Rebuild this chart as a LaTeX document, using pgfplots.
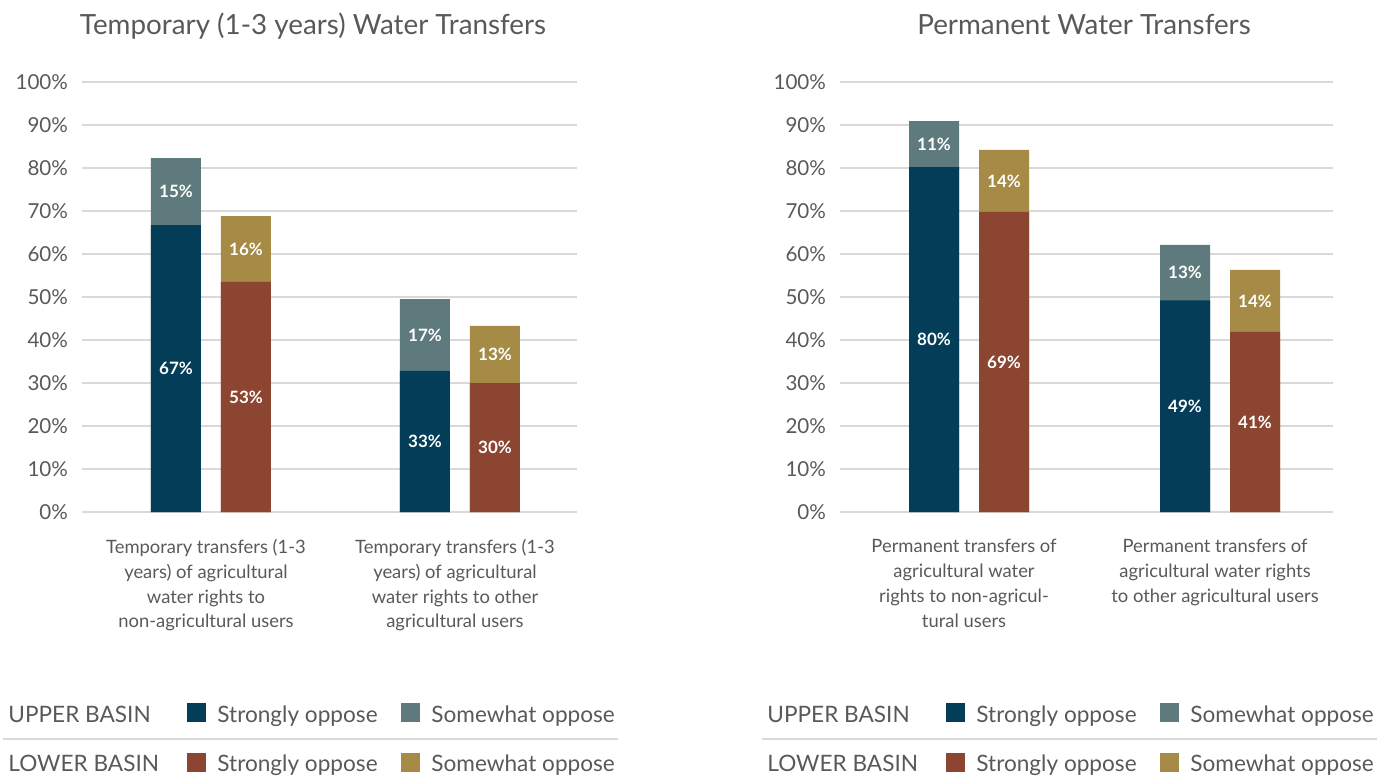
\documentclass[border=0pt]{standalone}
\usepackage{pgfplots}
\usepackage{pgfplotstable}
\pgfplotsset{compat=1.18}
\usepackage{fontspec}
\setmainfont{Lato}
\definecolor{ublue}{RGB}{3,61,88}
\definecolor{uteal}{RGB}{94,122,125}
\definecolor{lbrown}{RGB}{139,69,48}
\definecolor{lgold}{RGB}{166,139,71}
\definecolor{txt}{RGB}{89,89,89}
\definecolor{gridc}{RGB}{217,217,217}

% x: category; us/uw: upper basin strongly/somewhat; ls/lw: lower basin; *l: printed labels
\pgfplotstableread{
x  us   uw   ls   lw   usl uwl lsl lwl
0  66.7 15.6 53.5 15.3 67  15  53  16
1  32.8 16.7 30.0 13.3 33  17  30  13
}\tempdata
\pgfplotstableread{
x  us   uw   ls   lw   usl uwl lsl lwl
0  80.2 10.7 69.8 14.4 80  11  69  14
1  49.2 12.9 41.9 14.4 49  13  41  14
}\permdata

\pgfplotsset{
  panel/.style={
    scale only axis,
    height=215pt,
    ymin=0, ymax=100,
    ytick={0,10,...,100},
    yticklabels={0\%,10\%,20\%,30\%,40\%,50\%,60\%,70\%,80\%,90\%,100\%},
    ymajorgrids, grid style={gridc, line width=0.75pt},
    axis line style={draw=none},
    tick style={draw=none},
    xtick={0,1},
    yticklabel style={font=\fontsize{10.3}{12}\selectfont, text=txt, xshift=-3.5pt},
    xticklabel style={font=\fontsize{9.2}{12.35}\selectfont, text=txt, align=center, yshift=-6pt, xshift=-2.5pt},
    ybar, bar width=25pt,
    clip=false,
  },
  seg/.style={fill=#1, draw=none},
  lab/.style={draw=none, fill=none,
    nodes near coords={\pgfplotspointmeta\%},
    nodes near coords align=center,
    point meta=explicit symbolic,
    every node near coord/.append style={text=white, font=\bfseries\fontsize{8.5}{10}\selectfont, inner sep=0pt}},
}

\begin{document}
\begin{tikzpicture}
\path[use as bounding box] (0,0) rectangle (694.5pt,389pt);

% ---------- left panel ----------
\begin{axis}[panel, at={(41pt,133pt)}, anchor=south west,
  width=247.5pt, xmin=-0.518, xmax=1.47,
  xticklabels={{Temporary transfers (1-3\\years) of agricultural\\water rights to\\non-agricultural users},
               {Temporary transfers (1-3\\years) of agricultural\\water rights to other\\agricultural users}}]
\addplot[seg=uteal, bar shift=-17.5pt] table[x=x, y expr=\thisrow{us}+\thisrow{uw}] {\tempdata};
\addplot[seg=ublue, bar shift=-17.5pt] table[x=x, y=us] {\tempdata};
\addplot[seg=lgold, bar shift=17.5pt] table[x=x, y expr=\thisrow{ls}+\thisrow{lw}] {\tempdata};
\addplot[seg=lbrown, bar shift=17.5pt] table[x=x, y=ls] {\tempdata};
\addplot[lab, bar shift=-17.5pt] table[x=x, y expr=\thisrow{us}/2, meta=usl] {\tempdata};
\addplot[lab, bar shift=-17.5pt] table[x=x, y expr=\thisrow{us}+\thisrow{uw}/2, meta=uwl] {\tempdata};
\addplot[lab, bar shift=17.5pt] table[x=x, y expr=\thisrow{ls}/2, meta=lsl] {\tempdata};
\addplot[lab, bar shift=17.5pt] table[x=x, y expr=\thisrow{ls}+\thisrow{lw}/2, meta=lwl] {\tempdata};
\end{axis}

% ---------- right panel ----------
\begin{axis}[panel, at={(420pt,133pt)}, anchor=south west,
  width=246.5pt, xmin=-0.514, xmax=1.45,
  xticklabels={{Permanent transfers of\\agricultural water\\rights to non-agricul-\\tural users},
               {Permanent transfers of\\agricultural water rights\\to other agricultural users}}]
\addplot[seg=uteal, bar shift=-17.5pt] table[x=x, y expr=\thisrow{us}+\thisrow{uw}] {\permdata};
\addplot[seg=ublue, bar shift=-17.5pt] table[x=x, y=us] {\permdata};
\addplot[seg=lgold, bar shift=17.5pt] table[x=x, y expr=\thisrow{ls}+\thisrow{lw}] {\permdata};
\addplot[seg=lbrown, bar shift=17.5pt] table[x=x, y=ls] {\permdata};
\addplot[lab, bar shift=-17.5pt] table[x=x, y expr=\thisrow{us}/2, meta=usl] {\permdata};
\addplot[lab, bar shift=-17.5pt] table[x=x, y expr=\thisrow{us}+\thisrow{uw}/2, meta=uwl] {\permdata};
\addplot[lab, bar shift=17.5pt] table[x=x, y expr=\thisrow{ls}/2, meta=lsl] {\permdata};
\addplot[lab, bar shift=17.5pt] table[x=x, y expr=\thisrow{ls}+\thisrow{lw}/2, meta=lwl] {\permdata};
\end{axis}

% ---------- titles ----------
\node[anchor=base, inner sep=0pt, text=txt, font=\fontsize{13.9}{16}\selectfont] at (156.5pt,371.5pt) {Temporary (1-3 years) Water Transfers};
\node[anchor=base, inner sep=0pt, text=txt, font=\fontsize{13.9}{16}\selectfont] at (542pt,371.5pt) {Permanent Water Transfers};

% ---------- legends ----------
\begin{scope}[every node/.style={anchor=base west, inner sep=0pt, text=txt, font=\fontsize{11.3}{13}\selectfont}]
\foreach \ox in {0pt,379.5pt}{
  \begin{scope}[xshift=\ox]
  \node at (4pt,27.8pt) {UPPER BASIN};
  \node at (4pt,3.2pt) {LOWER BASIN};
  \fill[ublue] (93.5pt,28pt) rectangle ++(9.5pt,9.5pt);
  \node at (108.5pt,27.8pt) {Strongly oppose};
  \fill[uteal] (200.5pt,28pt) rectangle ++(9.5pt,9.5pt);
  \node at (215.5pt,27.8pt) {Somewhat oppose};
  \fill[lbrown] (93.5pt,3pt) rectangle ++(9.5pt,9.5pt);
  \node at (108.5pt,3.2pt) {Strongly oppose};
  \fill[lgold] (200.5pt,3pt) rectangle ++(9.5pt,9.5pt);
  \node at (215.5pt,3.2pt) {Somewhat oppose};
  \draw[gridc, line width=0.75pt] (1.5pt,19.5pt) -- (309pt,19.5pt);
  \end{scope}
}
\end{scope}
\end{tikzpicture}
\end{document}
